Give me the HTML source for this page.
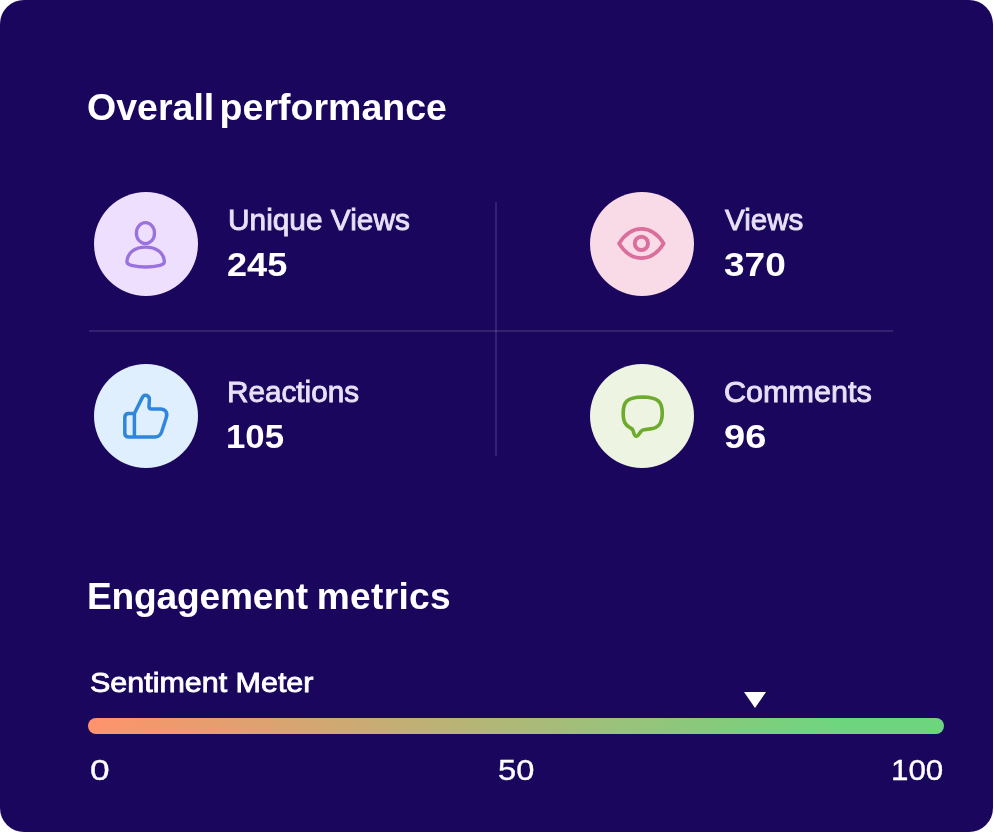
<!DOCTYPE html>
<html lang="en">
<head>
<meta charset="utf-8">
<title>Overall performance</title>
<style>
  html, body { margin: 0; padding: 0; background: #ffffff; }
  body { width: 994px; height: 832px; overflow: hidden; position: relative;
         font-family: "Liberation Sans", sans-serif; color: #ffffff; }
  .card { position: absolute; left: 0; top: 0; width: 993px; height: 832px;
          background: #1b065e; border-radius: 24px; }
  .t { position: absolute; white-space: nowrap; line-height: 1; transform-origin: 0 0; }
  .h { font-weight: 700; font-size: 36.5px; }
  .lbl { font-weight: 400; font-size: 29px; color: #e7e1f6; -webkit-text-stroke: 0.85px currentColor; }
  .val { font-weight: 700; font-size: 33px; }
  .circle { position: absolute; width: 104px; height: 104px; border-radius: 50%; }
  .hr { position: absolute; left: 89px; top: 330px; width: 804px; height: 2px; background: rgba(255,255,255,0.11); }
  .vr { position: absolute; left: 495px; top: 202px; width: 2px; height: 254px; background: rgba(255,255,255,0.11); }
  .bar { position: absolute; left: 88px; top: 718.4px; width: 856px; height: 15.5px; border-radius: 8px;
         background: linear-gradient(90deg, #ff936c 0%, #6ed57f 88%, #6ed57f 100%); }
  .tri { position: absolute; left: 744px; top: 692px; width: 0; height: 0;
         border-left: 11px solid transparent; border-right: 11px solid transparent; border-top: 16px solid #fff; }
  .num { font-size: 29.5px; font-weight: 400; -webkit-text-stroke: 0.35px currentColor; }
  svg { position: absolute; overflow: visible; }
</style>
</head>
<body>
<div class="card">
  <div class="t h" id="h1" style="word-spacing:-5px; left:86.94px; top:90px; transform:scaleX(1.0285);">Overall performance</div>

  <div class="circle" style="left:94px; top:192px; background:#eedffe;"></div>
  <div class="circle" style="left:590px; top:192px; background:#f8dbe6;"></div>
  <div class="circle" style="left:94px; top:364px; background:#dfeffd;"></div>
  <div class="circle" style="left:590px; top:364px; background:#edf4e1;"></div>

  <div class="t lbl" id="l1" style="left:227.69px; top:206px; transform:scaleX(1.0288);">Unique Views</div>
  <div class="t val" id="v1" style="left:226.55px; top:247.5px; transform:scaleX(1.0940);">245</div>
  <div class="t lbl" id="l2" style="left:725.1px; top:206px; transform:scaleX(1.0205);">Views</div>
  <div class="t val" id="v2" style="left:723.85px; top:247.5px; transform:scaleX(1.1211);">370</div>
  <div class="t lbl" id="l3" style="left:227.03px; top:378px; transform:scaleX(1.0237);">Reactions</div>
  <div class="t val" id="v3" style="left:226.25px; top:419.5px; transform:scaleX(1.0534);">105</div>
  <div class="t lbl" id="l4" style="left:723.6px; top:378px; transform:scaleX(1.0539);">Comments</div>
  <div class="t val" id="v4" style="left:723.93px; top:419.5px; transform:scaleX(1.1517);">96</div>


  <svg width="994" height="832" viewBox="0 0 994 832" style="left:0; top:0;" fill="none" stroke-linecap="round" stroke-linejoin="round">
    <!-- user -->
    <g stroke="#9a72e0" stroke-width="3.3">
      <ellipse cx="145.45" cy="233.15" rx="9.05" ry="10.45"/>
      <path d="M126.9 261.3 C127.3 252.5 135.5 247.2 145.6 247.2 C155.7 247.2 164 252.5 164.4 261.3 C164.5 263.6 162.6 264.7 160 265.3 C151 267.4 140.2 267.4 131.3 265.3 C128.7 264.7 126.8 263.6 126.9 261.3 Z"/>
    </g>
    <!-- eye -->
    <g stroke="#da6e9c" stroke-width="3.7">
      <path d="M619.1 243.45 C625 234 632.5 228.8 641.4 228.8 C650.3 228.8 657.8 234 663.7 243.45 C657.8 252.9 650.3 258.1 641.4 258.1 C632.5 258.1 625 252.9 619.1 243.45 Z"/>
      <circle cx="641.4" cy="243.4" r="6.6" stroke-width="3.9"/>
    </g>
    <!-- thumb -->
    <g stroke="#3086da" stroke-width="3.5">
      <path d="M134.4 413.5 L128.8 413.5 Q124.8 413.5 124.8 417.5 L124.8 433 Q124.8 437 128.8 437 L155 437 C158.5 437 160.4 435.3 161.6 432 L166.3 417.5 C168 412.5 165 408.9 160.5 408.9 L151.5 408.9 Q148.8 408.9 149 406.2 L149.4 399.5 C149.6 395.8 144.5 393.2 142.3 397.6 L134.4 413.5 Z"/>
      <path d="M134.4 413.5 L134.4 437" stroke-linecap="butt"/>
    </g>
    <!-- comment -->
    <g stroke="#6cab2b" stroke-width="3.6">
      <path d="M642.7 397 C658 397.2 662.25 401.5 662.25 413 C662.25 423.5 658.5 428 650.5 428.9 L644 429.7 C642.5 429.9 641.8 430.4 641 431.4 L638.3 435 C637 436.8 635 436.5 634.3 434.5 L633 430.5 C632.6 429.2 631.8 428.6 630.5 428 C625 425.2 623.2 421.5 623.2 413 C623.2 401.5 627 397.3 642.7 397 Z"/>
    </g>
  </svg>
  <div class="hr"></div>
  <div class="vr"></div>

  <div class="t h" id="h2" style="word-spacing:-1.5px; left:86.88px; top:579px; transform:scaleX(1.0177);"><span style="letter-spacing:-0.2px">Engagement</span> <span style="letter-spacing:0.3px">metrics</span></div>
  <div class="t lbl" id="sm" style="left:89.8px; top:668.8px; color:#fff; transform:scaleX(1.0878); font-size:28px;">Sentiment Meter</div>
  <div class="tri"></div>
  <div class="bar"></div>
  <div class="t num" id="n0" style="left:90.21px; top:755.2px; transform:scaleX(1.1940);">0</div>
  <div class="t num" id="n50" style="left:497.84px; top:755.2px; transform:scaleX(1.1058);">50</div>
  <div class="t num" id="n100" style="left:890.89px; top:755.2px; transform:scaleX(1.0623);">100</div>
</div>
</body>
</html>
